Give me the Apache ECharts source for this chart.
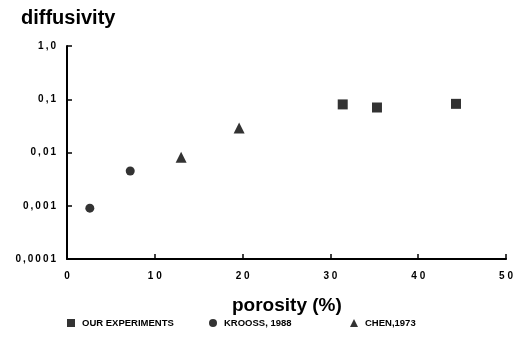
<!DOCTYPE html>
<html>
<head>
<meta charset="utf-8">
<script src="https://cdn.jsdelivr.net/npm/echarts@6/dist/echarts.min.js"></script>
<style>
  html, body { margin: 0; padding: 0; background: #fff; }
  #chart { width: 516px; height: 345px; }
</style>
</head>
<body>
<div id="chart"></div>
<script>
// porosity (%) / diffusivity pairs
var ourExperiments = [[31.4, 0.080], [35.3, 0.070], [44.3, 0.082]];
var krooss1988 = [[2.6, 0.0009], [7.2, 0.0045]];
var chen1973 = [[13.0, 0.0081], [19.6, 0.029]];
var xTicks = [0, 10, 20, 30, 40, 50];
var yTickLabels = {'1': '1,0', '0.1': '0,1', '0.01': '0,01', '0.001': '0,001', '0.0001': '0,0001'};

var chart = echarts.init(document.getElementById('chart'));
var font = 'Liberation Sans, Arial, sans-serif';

// spread the characters a little, like the labels of the scan
function spaced(s) { return s.split('').join('\u2009'); }

var option = {
  animation: false,
  backgroundColor: '#fff',
  textStyle: { fontFamily: font, color: '#000' },
  grid: { left: 67, right: 9, top: 46, bottom: 86 },
  title: [
    { text: 'diffusivity', left: 16, top: 3,
      textStyle: { fontSize: 20, fontWeight: 'bold', fontFamily: font, color: '#000' } },
    { text: 'porosity (%)', left: 227, top: 291,
      textStyle: { fontSize: 19, fontWeight: 'bold', fontFamily: font, color: '#000' } }
  ],
  legend: [
    { data: [{ name: 'OUR EXPERIMENTS', icon: 'rect' }], left: 62, top: 313 },
    { data: [{ name: 'KROOSS, 1988', icon: 'circle' }], left: 204, top: 313 },
    { data: [{ name: 'CHEN,1973', icon: 'triangle' }], left: 345, top: 313 }
  ].map(function (l) {
    l.itemWidth = 8; l.itemHeight = 8; l.itemGap = 0;
    l.textStyle = { fontSize: 9.5, fontWeight: 'bold', fontFamily: font, color: '#000', padding: [0, 0, 0, 2] };
    return l;
  }),
  xAxis: {
    type: 'value', min: 0, max: 50, interval: 10,
    splitLine: { show: false },
    axisLine: { lineStyle: { color: '#000', width: 2 } },
    axisTick: { inside: true, length: 5, lineStyle: { color: '#000', width: 1.5 } },
    axisLabel: { fontSize: 10, fontWeight: 'bold', color: '#000', margin: 12,
      formatter: function (v) { return xTicks.indexOf(v) >= 0 ? String(v).split('').join(' ') : ''; } }
  },
  yAxis: {
    type: 'log', min: 0.0001, max: 1, logBase: 10,
    splitLine: { show: false },
    axisLine: { lineStyle: { color: '#000', width: 2 } },
    axisTick: { inside: true, length: 5, lineStyle: { color: '#000', width: 1.5 } },
    axisLabel: { fontSize: 10, fontWeight: 'bold', color: '#000', margin: 11,
      formatter: function (v) {
        var k = String(+v.toPrecision(1));
        return yTickLabels[k] ? spaced(yTickLabels[k]) : '';
      } }
  },
  series: [
    { name: 'OUR EXPERIMENTS', type: 'scatter', symbol: 'rect', symbolSize: 10,
      itemStyle: { color: '#000' }, data: ourExperiments },
    { name: 'KROOSS, 1988', type: 'scatter', symbol: 'circle', symbolSize: 9,
      itemStyle: { color: '#000' }, data: krooss1988 },
    { name: 'CHEN,1973', type: 'scatter', symbol: 'triangle', symbolSize: 11,
      itemStyle: { color: '#000' }, data: chen1973 }
  ]
};
chart.setOption(option);
</script>
</body>
</html>
